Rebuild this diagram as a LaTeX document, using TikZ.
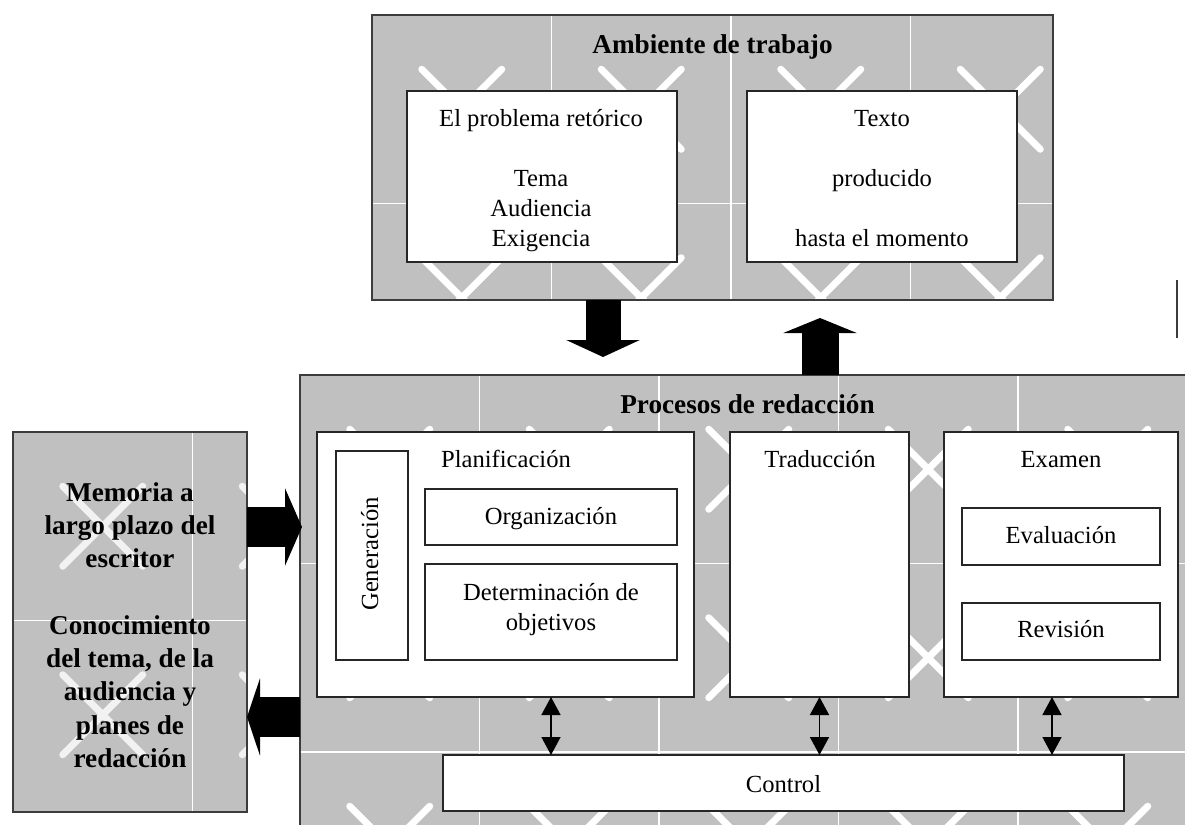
\documentclass[tikz,border=0pt]{standalone}
\usepackage{fontspec}
\setmainfont{Liberation Serif}
\usetikzlibrary{arrows.meta,calc}
\definecolor{boxgray}{RGB}{192,192,192}
\definecolor{edgecol}{RGB}{60,60,60}
\begin{document}
\begin{tikzpicture}[x=0.5pt,y=-0.5pt,
  every node/.style={outer sep=0pt},
  grayfill/.style={fill=boxgray, draw=none, inner sep=0pt},
  grayedge/.style={draw=edgecol, line width=1pt},
  wbox/.style={draw=black!85, line width=0.75pt, fill=white, inner sep=0pt},
  txt/.style={font=\fontsize{12.3}{15}\selectfont, inner sep=0pt, anchor=base},
  btxt/.style={font=\bfseries\fontsize{13.6}{16.65}\selectfont, inner sep=0pt, anchor=base},
  gridln/.style={white, line width=0.75pt},
  xmark/.style={white, line width=3.5pt, line cap=round},
  blockarrow/.style n args={3}{black, line width=#1, -{Triangle[width=#2,length=#3]}},
  dblarrow/.style={black, line width=0.75pt, {Triangle[width=9.5pt,length=9pt]}-{Triangle[width=9.5pt,length=9pt]}}
]
\useasboundingbox (0,0) rectangle (1185,825);
\clip (0,0) rectangle (1185,825);

% ---------- gray containers ----------
\node[grayfill, minimum width=340.5pt, minimum height=142.5pt] (amb) at (712.5,157.5) {};
\node[grayfill, minimum width=450pt, minimum height=232.5pt] (proc) at (750,607.5) {};
\node[grayfill, minimum width=117pt, minimum height=190pt] (mem) at (130,622) {};

% texture: Ambiente
\begin{scope}
  \clip (amb.north west) rectangle (amb.south east);
  \foreach \gx in {551.5,731,910.5} \draw[gridln] (\gx,15) -- (\gx,300);
  \draw[gridln] (372,203.5) -- (1053,203.5);
  \foreach \cx in {461.75,641.25,820.75,1000.25}
    \foreach \cy in {109.25,297.75}
      \draw[xmark] (\cx-40,\cy-40) -- (\cx+40,\cy+40) (\cx-40,\cy+40) -- (\cx+40,\cy-40);
\end{scope}
% texture: Procesos
\begin{scope}
  \clip (proc.north west) rectangle (proc.south east);
  \foreach \gx in {479.5,659,838.5,1018} \draw[gridln] (\gx,375) -- (\gx,840);
  \foreach \gy in {563.5,752} \draw[gridln] (300,\gy) -- (1200,\gy);
  \foreach \cx in {389.75,569.25,748.75,928.25,1107.75}
    \foreach \cy in {469.25,657.75,846.25}
      \draw[xmark] (\cx-40,\cy-40) -- (\cx+40,\cy+40) (\cx-40,\cy+40) -- (\cx+40,\cy-40);
\end{scope}
% texture: Memoria
\begin{scope}
  \clip (mem.north west) rectangle (mem.south east);
  \draw[gridln] (192.5,432) -- (192.5,812);
  \draw[gridln] (13,620.5) -- (247,620.5);
  \foreach \cx in {102.75,282.25}
    \foreach \cy in {526.25,714.75}
      \draw[xmark, opacity=0.8] (\cx-40,\cy-40) -- (\cx+40,\cy+40) (\cx-40,\cy+40) -- (\cx+40,\cy-40);
\end{scope}

\draw[grayedge] (amb.north west) rectangle (amb.south east);
\draw[grayedge] (proc.north west) rectangle (proc.south east);
\draw[grayedge] (mem.north west) rectangle (mem.south east);

% ---------- Ambiente de trabajo ----------
\node[btxt] (ambt) at (712.5,53) {Ambiente de trabajo};
\node[wbox, minimum width=135pt, minimum height=85.5pt] (prob) at (542,176.5) {};
\node[wbox, minimum width=135pt, minimum height=85.5pt] (texto) at (882,176.5) {};
\node[txt] (p1) at (541,126.5) {El problema retórico};
\node[txt] (p2) at (541,186) {Tema};
\node[txt] (p3) at (541,216) {Audiencia};
\node[txt] (p4) at (541,246) {Exigencia};
\node[txt] (x1) at (882,126.5) {Texto};
\node[txt] (x2) at (882,186) {producido};
\node[txt] (x3) at (882,246) {hasta el momento};

% ---------- Procesos de redacción ----------
\node[btxt] (proct) at (747.5,413) {Procesos de redacción};
\node[wbox, minimum width=188.5pt, minimum height=132.5pt] (plan) at (505.5,564.5) {};
\node[wbox, minimum width=36pt, minimum height=104.5pt] (gen) at (372,555.5) {};
\node[wbox, minimum width=126pt, minimum height=28pt] (org) at (551,517) {};
\node[wbox, minimum width=126pt, minimum height=48pt] (det) at (551,612) {};
\node[wbox, minimum width=89.5pt, minimum height=132.5pt] (trad) at (819.5,564.5) {};
\node[wbox, minimum width=117pt, minimum height=132.5pt] (exam) at (1061,564.5) {};
\node[wbox, minimum width=99pt, minimum height=28.5pt] (eval) at (1061,536.5) {};
\node[wbox, minimum width=99pt, minimum height=28.5pt] (rev) at (1061,631.5) {};
\node[wbox, minimum width=340.5pt, minimum height=28pt] (ctrl) at (783.5,783) {};

\node[txt] (plant) at (506,467) {Planificación};
\node[txt, rotate=90] (gent) at (378,554) {Generación};
\node[txt] (orgt) at (551,524) {Organización};
\node[txt] (dett1) at (551,600.5) {Determinación de};
\node[txt] (dett2) at (551,630.5) {objetivos};
\node[txt] (tradt) at (820,467) {Traducción};
\node[txt] (examt) at (1061,467) {Examen};
\node[txt] (evalt) at (1061,543) {Evaluación};
\node[txt] (revt) at (1061,637) {Revisión};
\node[txt] (ctrlt) at (783.5,792) {Control};

% ---------- Memoria ----------
\node[btxt] (m1) at (130,501) {Memoria a};
\node[btxt] (m2) at (130,534.3) {largo plazo del};
\node[btxt] (m3) at (130,567.6) {escritor};
\node[btxt] (m4) at (130,634.2) {Conocimiento};
\node[btxt] (m5) at (130,667.5) {del tema, de la};
\node[btxt] (m6) at (130,700.8) {audiencia y};
\node[btxt] (m7) at (130,734.1) {planes de};
\node[btxt] (m8) at (130,767.4) {redacción};

% ---------- block arrows ----------
\coordinate (dnx) at (603,357);
\coordinate (upx) at (820,318);
\coordinate (rtx) at (302,527);
\coordinate (ltx) at (247,717);
\draw[blockarrow={17.5pt}{36.5pt}{8.5pt}] (amb.south -| dnx) -- (dnx);
\draw[blockarrow={18.5pt}{36.5pt}{7.5pt}] (proc.north -| upx) -- (upx);
\draw[blockarrow={20pt}{38.5pt}{8.5pt}] (mem.east |- rtx) -- (rtx);
\draw[blockarrow={20pt}{38.5pt}{6.5pt}] (proc.west |- ltx) -- (mem.east |- ltx);

% ---------- control arrows ----------
\coordinate (da1) at (551,0);
\coordinate (da3) at (1052,0);
\draw[dblarrow] (plan.south -| da1) -- (ctrl.north -| da1);
\draw[dblarrow] (trad.south) -- (trad.south |- ctrl.north);
\draw[dblarrow] (exam.south -| da3) -- (ctrl.north -| da3);

% stray mark at right
\coordinate (mk1) at (1177,280);
\coordinate (mk2) at (1177,338);
\draw[edgecol, line width=1pt] (mk1) -- (mk2);
\end{tikzpicture}
\end{document}
